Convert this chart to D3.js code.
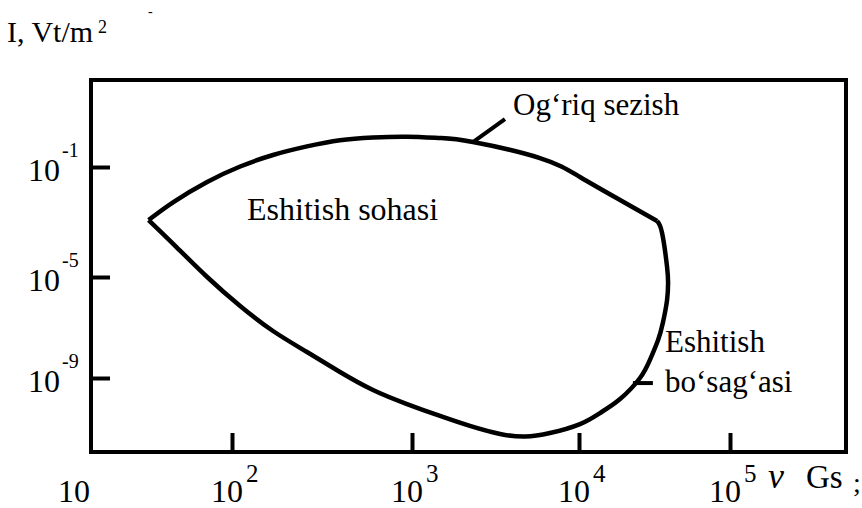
<!DOCTYPE html>
<html>
<head>
<meta charset="utf-8">
<script src="https://cdn.jsdelivr.net/npm/d3@7/dist/d3.min.js"></script>
<style>
  html, body { margin: 0; padding: 0; background: #fff; }
</style>
</head>
<body>
<svg id="chart" width="862" height="508"></svg>
<script>
// Frequency axis (Hz): decade ticks and their exponents
const freqTicks = [10, 100, 1000, 10000, 100000];
const freqExponents = ["", "2", "3", "4", "5"];

// Intensity axis (W/m^2): ticks and exponents
const intensityTicks = [1e-1, 1e-5, 1e-9];
const intensityExponents = ["-1", "-5", "-9"];

// Pain threshold (upper boundary), [frequency Hz, intensity W/m^2]
const painThreshold = [
  [28.5, 1.18e-3], [41.4, 5.3e-3], [68.8, 2.85e-2], [111, 1.04e-1],
  [169, 0.273], [261, 0.56], [398, 0.94], [607, 1.18], [938, 1.26],
  [1472, 1.13], [2317, 0.81], [5834, 0.212], [10150, 4.33e-2],
  [18700, 6.3e-3], [32900, 1.09e-3]
];

// Hearing threshold (lower boundary), from the high-frequency corner back to the low end
const hearingThreshold = [
  [32900, 1.09e-3], [35500, 4.0e-4], [38300, 2.31e-5], [38900, 5.8e-6],
  [38300, 1.23e-6], [35900, 1.5e-7], [33400, 3.2e-8], [29500, 5.2e-9],
  [25350, 1.0e-9], [18700, 1.47e-10], [13770, 4.1e-11], [10150, 1.5e-11],
  [6700, 6.6e-12], [4755, 4.8e-12], [3370, 6.05e-12], [2223, 1.26e-11],
  [1472, 3.13e-11], [938, 9.3e-11], [607, 3.35e-10], [398, 1.73e-9],
  [261, 1.07e-8], [169, 7.26e-8], [111, 7.1e-7], [68.8, 1.0e-5],
  [41.4, 1.58e-4], [28.5, 1.18e-3]
];

// Where the curve labels attach to the curves
const painAnchor = [2317, 0.81];
const hearingAnchor = [23100, 6.3e-10];

const FONT = "'Liberation Serif', Tinos, 'Times New Roman', Times, 'DejaVu Serif', serif";

const svg = d3.select("#chart").attr("font-family", FONT);

const x = d3.scaleLog()
  .domain(freqTicks)
  .range([79, 232, 412, 579, 730]);

const y = d3.scaleLog()
  .domain(intensityTicks)
  .range([167, 277, 378]);

// Plot frame
svg.append("rect")
  .attr("x", 91).attr("y", 80)
  .attr("width", 755).attr("height", 372)
  .attr("fill", "none").attr("stroke", "#000").attr("stroke-width", 4);

// Inward tick marks
const xAxis = svg.append("g")
  .attr("transform", "translate(0,452)")
  .call(d3.axisBottom(x).tickValues(freqTicks.slice(1)).tickSize(-19).tickFormat(""));
const yAxis = svg.append("g")
  .attr("transform", "translate(91,0)")
  .call(d3.axisLeft(y).tickValues(intensityTicks).tickSize(-19).tickFormat(""));
[xAxis, yAxis].forEach(g => {
  g.select(".domain").remove();
  g.selectAll(".tick line").attr("stroke", "#000").attr("stroke-width", 4);
});

function label(px, py, size, str, anchor, style) {
  return svg.append("text")
    .attr("x", px).attr("y", py)
    .style("font-family", FONT)
    .attr("font-size", size)
    .attr("text-anchor", anchor || "start")
    .attr("font-style", style || "normal")
    .attr("fill", "#000")
    .text(str);
}

// Frequency labels: 10 with superscript exponent
freqTicks.forEach((t, i) => {
  label(x(t) + 11, 502, 32, "10", "end");
  if (freqExponents[i]) label(x(t) + 14, 482, 25, freqExponents[i]);
});

// Intensity labels
intensityTicks.forEach((t, i) => {
  label(60, y(t) + 14, 32, "10", "end");
  label(62, y(t) - 10, 20, intensityExponents[i]);
});

// Axis titles
label(7, 42, 30, "I, Vt/m");
label(98, 33, 18, "2");
label(768, 488, 36, "ν", "start", "italic");
label(806, 488, 33, "Gs");
label(853, 492, 28, ";");
label(148, 16, 14, "-");

// Boundary curves
const line = d3.line()
  .x(d => x(d[0]))
  .y(d => y(d[1]))
  .curve(d3.curveNatural);

[painThreshold, hearingThreshold].forEach(data => {
  svg.append("path")
    .datum(data)
    .attr("d", line)
    .attr("fill", "none")
    .attr("stroke", "#000")
    .attr("stroke-width", 4.5)
    .attr("stroke-linejoin", "miter");
});

// Curve labels with leader lines
const pa = [x(painAnchor[0]), y(painAnchor[1])];
svg.append("line")
  .attr("x1", pa[0]).attr("y1", pa[1])
  .attr("x2", pa[0] + 32).attr("y2", pa[1] - 23)
  .attr("stroke", "#000").attr("stroke-width", 4);
label(513, 115, 31, "Og‘riq sezish");

const ha = [x(hearingAnchor[0]), y(hearingAnchor[1])];
svg.append("line")
  .attr("x1", ha[0] - 1).attr("y1", ha[1])
  .attr("x2", ha[0] + 19).attr("y2", ha[1])
  .attr("stroke", "#000").attr("stroke-width", 4);
label(665, 352, 31, "Eshitish");
label(665, 392, 31, "bo‘sag‘asi");

label(247, 220, 32, "Eshitish sohasi");
</script>
</body>
</html>
